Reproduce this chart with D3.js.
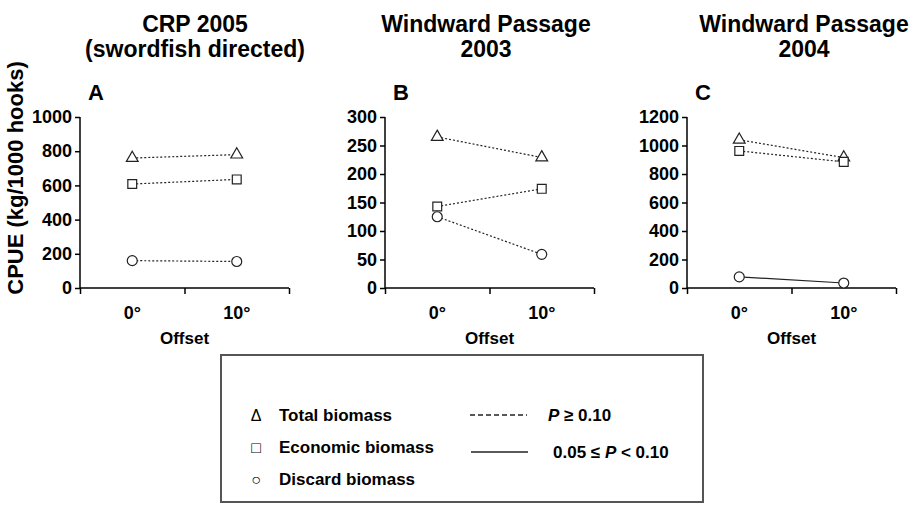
<!DOCTYPE html>
<html>
<head>
<meta charset="utf-8">
<script src="https://cdn.jsdelivr.net/npm/d3@7"></script>
<style>
  body { margin: 0; background: #fff; }
  svg { font-family: "Liberation Sans", Arial, sans-serif; }
  .axis path, .axis line { stroke: #000; stroke-width: 1.5; }
  .axis text { font-size: 18px; font-weight: bold; fill: #000; }
</style>
</head>
<body>
<svg id="chart" width="914" height="505"></svg>
<script>
// offsets on the x axis
const offsets = ['0°', '10°'];

// panel titles and letters
const panelTitles = [
  ['CRP 2005', '(swordfish directed)'],
  ['Windward Passage', '2003'],
  ['Windward Passage', '2004']
];
const panelLetters = ['A', 'B', 'C'];
const panelMax = [1000, 300, 1200];
const panelStep = [200, 50, 200];

// CPUE values (kg/1000 hooks), [0°, 10°]
const totalA = [760, 780];
const econA = [608, 635];
const discardA = [160, 155];

const totalB = [265, 229];
const econB = [143, 174];
const discardB = [125, 59];

const totalC = [1040, 915];
const econC = [962, 885];
const discardC = [78, 35];

// significance of each line: 'ns' = P >= 0.10, 'p10' = 0.05 <= P < 0.10
const sigA = ['ns', 'ns', 'ns'];
const sigB = ['ns', 'ns', 'ns'];
const sigC = ['ns', 'ns', 'p10'];

const panels = [
  { series: [totalA, econA, discardA], sig: sigA },
  { series: [totalB, econB, discardB], sig: sigB },
  { series: [totalC, econC, discardC], sig: sigC }
];
const shapes = [d3.symbolTriangle, d3.symbolSquare, d3.symbolCircle];
const shapeSizes = [60, 78, 78];

const svg = d3.select('#chart');
const axisX0 = [80, 385, 687];
const axisW = 209;
const yBottom = 288, yTop = 117;
const titleCx = [195, 486, 804];

panels.forEach((p, i) => {
  const g = svg.append('g');
  const x = d3.scaleLinear().domain([0, 2]).range([axisX0[i], axisX0[i] + axisW]);
  const y = d3.scaleLinear().domain([0, panelMax[i]]).range([yBottom, yTop]);

  // title
  const t = g.append('text')
    .attr('text-anchor', 'middle')
    .style('font-size', '23px')
    .style('font-weight', 'bold');
  panelTitles[i].forEach((line, k) => {
    t.append('tspan').attr('x', titleCx[i]).attr('y', 32 + k * 25).text(line);
  });

  g.append('text')
    .attr('x', axisX0[i] + 8)
    .attr('y', 100)
    .style('font-size', '22px')
    .style('font-weight', 'bold')
    .text(panelLetters[i]);

  // axes
  g.append('g')
    .attr('class', 'axis')
    .attr('transform', `translate(${axisX0[i]},0)`)
    .call(d3.axisLeft(y)
      .tickValues(d3.range(0, panelMax[i] + 1, panelStep[i]))
      .tickFormat(d3.format('d'))
      .tickSize(5).tickPadding(3))
    .call(a => a.select('.domain').attr('d', `M0,${yTop}V${yBottom}`));

  g.append('g')
    .attr('class', 'axis')
    .attr('transform', `translate(0,${yBottom})`)
    .call(d3.axisBottom(x).tickValues([0, 1, 2]).tickFormat('').tickSize(6))
    .call(a => a.select('.domain').attr('d', `M${x(0)},0H${x(2)}`));

  g.selectAll('.xlab')
    .data(offsets)
    .enter()
    .append('text')
    .attr('x', (d, j) => x(j + 0.5))
    .attr('y', 319)
    .attr('text-anchor', 'middle')
    .style('font-size', '18px')
    .style('font-weight', 'bold')
    .text(d => d);

  g.append('text')
    .attr('x', x(1))
    .attr('y', 344)
    .attr('text-anchor', 'middle')
    .style('font-size', '17px')
    .style('font-weight', 'bold')
    .text('Offset');

  // lines then markers
  const line = d3.line().x((d, j) => x(j + 0.5)).y(d => y(d));
  p.series.forEach((vals, s) => {
    g.append('path')
      .attr('d', line(vals))
      .attr('fill', 'none')
      .attr('stroke', '#222')
      .attr('stroke-width', 1.2)
      .attr('stroke-dasharray', p.sig[s] === 'ns' ? '2,2' : null);
  });
  p.series.forEach((vals, s) => {
    g.selectAll(null)
      .data(vals)
      .enter()
      .append('path')
      .attr('d', d3.symbol(shapes[s], shapeSizes[s]))
      .attr('transform', (d, j) => `translate(${x(j + 0.5)},${y(d)})`)
      .attr('fill', '#fff')
      .attr('stroke', '#222')
      .attr('stroke-width', 1.2);
  });
});

// y axis title
svg.append('text')
  .attr('transform', 'translate(23,178) rotate(-90)')
  .attr('text-anchor', 'middle')
  .style('font-size', '22px')
  .style('font-weight', 'bold')
  .text('CPUE (kg/1000 hooks)');

// legend
const legendNames = ['Total biomass', 'Economic biomass', 'Discard biomass'];
const legendGlyphs = ['Δ', '□', '○'];
const legend = svg.append('g');
legend.append('rect')
  .attr('x', 221).attr('y', 355).attr('width', 482).attr('height', 147)
  .attr('fill', 'none').attr('stroke', '#555').attr('stroke-width', 2);

legendNames.forEach((name, k) => {
  const by = 421 + k * 32;
  legend.append('text')
    .attr('x', 256).attr('y', by)
    .attr('text-anchor', 'middle')
    .style('font-size', '16px')
    .text(legendGlyphs[k]);
  legend.append('text')
    .attr('x', 279).attr('y', by)
    .style('font-size', '17px')
    .style('font-weight', 'bold')
    .text(name);
});

legend.append('line')
  .attr('x1', 470).attr('x2', 527).attr('y1', 415).attr('y2', 415)
  .attr('stroke', '#222').attr('stroke-width', 1.3).attr('stroke-dasharray', '5,3');
legend.append('line')
  .attr('x1', 471).attr('x2', 528).attr('y1', 452).attr('y2', 452)
  .attr('stroke', '#222').attr('stroke-width', 1.5);

const p1 = legend.append('text').attr('x', 548).attr('y', 421)
  .style('font-size', '17px').style('font-weight', 'bold');
p1.append('tspan').style('font-style', 'italic').text('P');
p1.append('tspan').text(' ≥ 0.10');

const p2 = legend.append('text').attr('x', 553).attr('y', 458)
  .style('font-size', '17px').style('font-weight', 'bold');
p2.append('tspan').text('0.05 ≤ ');
p2.append('tspan').style('font-style', 'italic').text('P');
p2.append('tspan').text(' < 0.10');
</script>
</body>
</html>
